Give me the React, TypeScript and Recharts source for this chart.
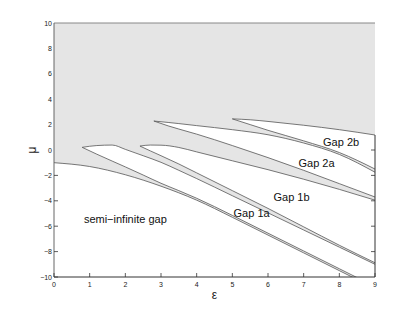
import React from 'react';
import {
    ComposedChart,
    Area,
    XAxis,
    YAxis,
    CartesianGrid,
    ReferenceLine,
    ReferenceDot,
} from 'recharts';

// axis ticks
const xTicks = [0, 1, 2, 3, 4, 5, 6, 7, 8, 9];
const yTicks = [-10, -8, -6, -4, -2, 0, 2, 4, 6, 8, 10];

// semi-infinite gap: white below this edge
const semiX = [0, 1, 2, 3, 4, 5, 6, 7, 8, 9];
const semiTop = [-1.0, -1.3, -1.95, -2.85, -3.95, -5.3, -6.7, -8.1, -9.5, -10.9];

// gap 1a
const gap1aX = [0.79, 1.2, 1.63, 2, 2.5, 3, 3.5, 4, 5, 6, 7, 8, 9];
const gap1aLow = [0.21, -0.33, -0.87, -1.33, -1.97, -2.62, -3.2, -3.8, -5.15, -6.55, -7.95, -9.35, -10.75];
const gap1aHigh = [0.21, 0.35, 0.39, 0.05, -0.45, -0.97, -1.6, -2.25, -3.6, -4.95, -6.3, -7.65, -9.0];

// gap 1b
const gap1bX = [2.41, 2.7, 3, 3.5, 4, 5, 6, 7, 8, 9];
const gap1bLow = [0.31, -0.07, -0.45, -1.1, -1.8, -3.2, -4.6, -6.05, -7.5, -8.88];
const gap1bHigh = [0.31, 0.39, 0.38, 0.2, -0.15, -0.85, -1.55, -2.3, -3.1, -3.95];

// gap 2a
const gap2aX = [2.8, 3.2, 3.5, 4, 5, 6, 7, 8, 9];
const gap2aLow = [2.28, 1.9, 1.65, 1.25, 0.35, -0.6, -1.6, -2.65, -3.7];
const gap2aHigh = [2.28, 2.17, 2.08, 1.92, 1.6, 1.2, 0.55, -0.35, -1.75];

// gap 2b
const gap2bX = [5.0, 5.5, 6, 7, 8, 9];
const gap2bLow = [2.45, 2.0, 1.55, 0.72, -0.2, -1.5];
const gap2bHigh = [2.45, 2.38, 2.25, 1.95, 1.6, 1.18];

// region labels
const labelNames = ['semi\u2212infinite gap', 'Gap 1a', 'Gap 1b', 'Gap 2a', 'Gap 2b'];
const labelX = [2.0, 5.54, 6.66, 7.36, 8.05];
const labelY = [-5.45, -4.96, -3.7, -1.02, 0.59];

const FONT = '"Liberation Sans", Arial, Helvetica, sans-serif';
const EDGE = '#555';

const rangeRows = (xs: number[], lo: number[], hi: number[]) =>
    xs.map((x, i) => ({ x, r: [lo[i], hi[i]] }));

const semiRows = semiX.map((x, i) => ({ x, top: semiTop[i] }));
const gaps = [
    rangeRows(gap1aX, gap1aLow, gap1aHigh),
    rangeRows(gap1bX, gap1bLow, gap1bHigh),
    rangeRows(gap2aX, gap2aLow, gap2aHigh),
    rangeRows(gap2bX, gap2bLow, gap2bHigh),
];

const fmt = (v: number) => String(v).replace('-', '\u2212');

// ticks are only visible where the background is white
const LeftTick = ({ x, y, payload }: any) => (
    <g>
        {payload.value <= -2 && (
            <line x1={x + 2} x2={x + 6} y1={y} y2={y} stroke="#333" strokeWidth={0.8} />
        )}
        <text x={x} y={y} dy={2.5} textAnchor="end" fontSize={7} fill="#222" fontFamily={FONT}>
            {fmt(payload.value)}
        </text>
    </g>
);

const BottomTick = ({ x, y, payload }: any) => (
    <g>
        <line x1={x} x2={x} y1={y - 4} y2={y - 8} stroke="#333" strokeWidth={0.8} />
        <text x={x} y={y} dy={6} textAnchor="middle" fontSize={7} fill="#222" fontFamily={FONT}>
            {payload.value}
        </text>
    </g>
);

const RightTick = ({ x, y, payload }: any) =>
    payload.value <= 0 && payload.value > -10 ? (
        <line x1={x} x2={x - 4} y1={y} y2={y} stroke="#333" strokeWidth={0.8} />
    ) : (
        <g />
    );

const App = () => {
    return (
        <div style={{ position: 'absolute', left: 0, top: 0, width: 415, height: 312, background: '#fff' }}>
            <ComposedChart width={415} height={312} margin={{ top: 23, right: 30, bottom: 15, left: 24 }}>
                <CartesianGrid horizontal={false} vertical={false} fill="#e5e5e5" />
                <XAxis
                    type="number"
                    dataKey="x"
                    domain={[0, 9]}
                    ticks={xTicks}
                    allowDataOverflow
                    height={20}
                    tickLine={false}
                    tickSize={0}
                    tickMargin={4}
                    tick={<BottomTick />}
                    axisLine={{ stroke: '#333' }}
                    label={{ value: '\u03b5', position: 'center', dy: 8, fontSize: 12, fill: '#222', fontFamily: FONT }}
                />
                <YAxis
                    type="number"
                    domain={[-10, 10]}
                    ticks={yTicks}
                    allowDataOverflow
                    width={30}
                    tickLine={false}
                    tickSize={0}
                    tickMargin={2}
                    tick={<LeftTick />}
                    axisLine={{ stroke: '#666' }}
                    label={{ value: '\u03bc', angle: -90, position: 'center', dx: -7, fontSize: 12, fill: '#222', fontFamily: FONT }}
                />
                <YAxis
                    yAxisId="right"
                    orientation="right"
                    type="number"
                    domain={[-10, 10]}
                    ticks={yTicks}
                    allowDataOverflow
                    width={10}
                    tickLine={false}
                    tickSize={0}
                    tickMargin={0}
                    tick={<RightTick />}
                    axisLine={false}
                />
                <Area
                    data={semiRows}
                    dataKey="top"
                    type="monotone"
                    baseValue={-10}
                    fill="#fff"
                    fillOpacity={1}
                    stroke={EDGE}
                    strokeWidth={0.8}
                    dot={false}
                    activeDot={false}
                    isAnimationActive={false}
                />
                {gaps.map((rows, i) => (
                    <Area
                        key={i}
                        data={rows}
                        dataKey="r"
                        type="monotone"
                        fill="#fff"
                        fillOpacity={1}
                        stroke={EDGE}
                        strokeWidth={0.8}
                        dot={false}
                        activeDot={false}
                        isAnimationActive={false}
                    />
                ))}
                <ReferenceLine y={10} stroke="#888" strokeWidth={1} />
                <ReferenceLine
                    segment={[
                        { x: 9, y: -10 },
                        { x: 9, y: gap2bHigh[gap2bHigh.length - 1] },
                    ]}
                    stroke="#333"
                    strokeWidth={1}
                />
                {labelNames.map((name, i) => (
                    <ReferenceDot
                        key={name}
                        x={labelX[i]}
                        y={labelY[i]}
                        r={0}
                        fill="none"
                        stroke="none"
                        label={{ value: name, position: 'center', fontSize: 11, fill: '#111', fontFamily: FONT }}
                    />
                ))}
            </ComposedChart>
        </div>
    );
};

export default App;
